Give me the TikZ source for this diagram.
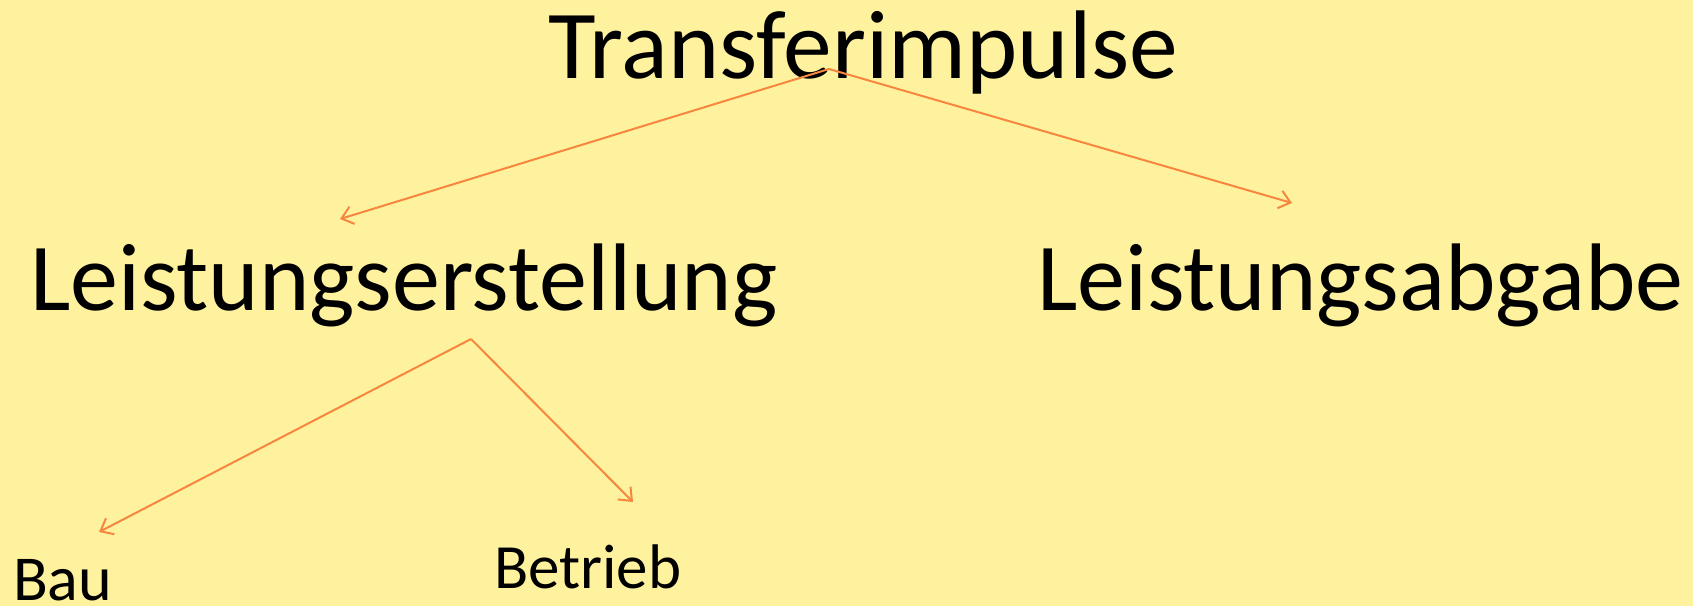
\documentclass[tikz,border=0pt]{standalone}
\usepackage{fontspec}
\setmainfont{Carlito}
\usetikzlibrary{arrows.meta}
\definecolor{bg}{HTML}{FFF29E}
\definecolor{arr}{HTML}{F7863E}
\begin{document}
\begin{tikzpicture}[x=1pt,y=-1pt,
  lbl/.style={anchor=base west,inner sep=0pt,outer sep=0pt,text=black},
  conn/.style={draw=arr,line width=2pt,-{Straight Barb[length=11pt,width=18pt,line width=2pt]}}]
\fill[bg] (0,0) rectangle (1693,606);
\useasboundingbox (0,0) rectangle (1693,606);
\node[lbl,font=\fontsize{97.5}{97.5}\selectfont] (t) at (548,78) {Transferimpulse};
\node[lbl,font=\fontsize{96}{96}\selectfont] (le) at (30,310) {Leistungserstellung};
\node[lbl,font=\fontsize{96}{96}\selectfont] (la) at (1037,310) {Leistungsabgabe};
\node[lbl,font=\fontsize{64}{64}\selectfont] (bau) at (13,600) {Bau};
\node[lbl,font=\fontsize{63}{63}\selectfont] (be) at (494,588) {Betrieb};
\coordinate (a1) at (829,69);
\coordinate (e1) at (340,219);
\coordinate (e2) at (1292,203);
\coordinate (a2) at (471,339);
\coordinate (e3) at (99,532);
\coordinate (e4) at (633,502);
\draw[conn] (a1) -- (e1);
\draw[conn] (a1) -- (e2);
\draw[conn] (a2) -- (e3);
\draw[conn] (a2) -- (e4);
\end{tikzpicture}
\end{document}
